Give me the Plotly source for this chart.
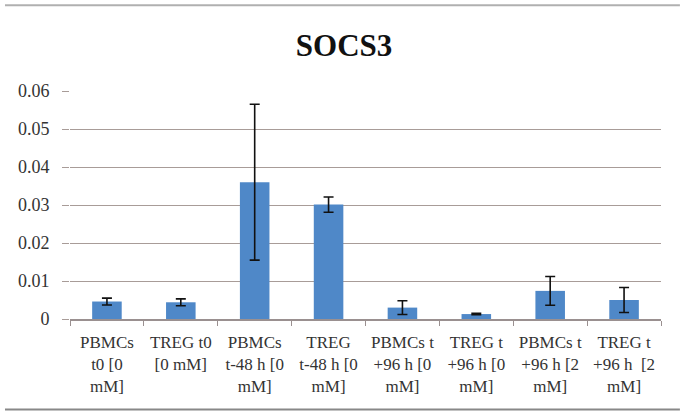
import plotly.graph_objects as go

categories = ["PBMCs<br>t0 [0<br>mM]", "TREG t0<br>[0 mM]", "PBMCs<br>t-48 h [0<br>mM]", "TREG<br>t-48 h [0<br>mM]",
              "PBMCs t<br>+96 h [0<br>mM]", "TREG t<br>+96 h [0<br>mM]", "PBMCs t<br>+96 h [2<br>mM]", "TREG t<br>+96 h  [2<br>mM]"]
values = [0.0046, 0.0044, 0.0360, 0.0301, 0.0030, 0.0013, 0.0074, 0.0050]
errors = [0.0009, 0.0009, 0.0205, 0.0020, 0.0018, 0.0002, 0.0038, 0.0033]
y_ticks = [0, 0.01, 0.02, 0.03, 0.04, 0.05, 0.06]
y_ticklabels = ["0", "0.01", "0.02", "0.03", "0.04", "0.05", "0.06"]

font_family = "Liberation Serif, DejaVu Serif, serif"

fig = go.Figure(go.Bar(
    x=categories, y=values,
    marker=dict(color="#4f88c8", line=dict(width=0)),
    width=0.4,
    error_y=dict(type="data", array=errors, visible=True, color="#111111", thickness=1.6, width=5),
))

fig.update_layout(
    width=680, height=414,
    margin=dict(l=70, r=19, t=91, b=95),
    paper_bgcolor="white", plot_bgcolor="white",
    title=dict(text="<b>SOCS3</b>", x=0.506, xanchor="center", y=0.892, yanchor="middle",
               font=dict(family=font_family, size=31, color="#111111")),
    font=dict(family=font_family, size=17, color="#333333"),
    showlegend=False,
    xaxis=dict(
        automargin=False,
        showline=True, linecolor="#9a9090", linewidth=1.5,
        ticks="outside", tickson="boundaries", ticklen=5, tickcolor="#9a9090",
        ticklabelstandoff=7,
        tickfont=dict(family=font_family, size=17, color="#333333"),
        showgrid=False,
    ),
    yaxis=dict(
        automargin=False,
        range=[0, 0.06], tickvals=y_ticks, ticktext=y_ticklabels,
        showgrid=True, gridcolor="#a89c98", gridwidth=1.3,
        showline=False, zeroline=False,
        ticks="outside", ticklen=7, tickcolor="#a89c98",
        ticklabelstandoff=9,
        tickfont=dict(family=font_family, size=18, color="#333333"),
    ),
)

# chart border lines (top and bottom)
fig.add_shape(type="line", xref="paper", yref="paper", x0=-0.11, x1=1.032, y0=1.376, y1=1.376,
              line=dict(color="#b0b0b0", width=2))
fig.add_shape(type="line", xref="paper", yref="paper", x0=-0.11, x1=1.032, y0=-0.397, y1=-0.397,
              line=dict(color="#888888", width=2))

fig.write_html("out.html", post_script="document.body.style.margin='0';",
               config={"displayModeBar": False})
